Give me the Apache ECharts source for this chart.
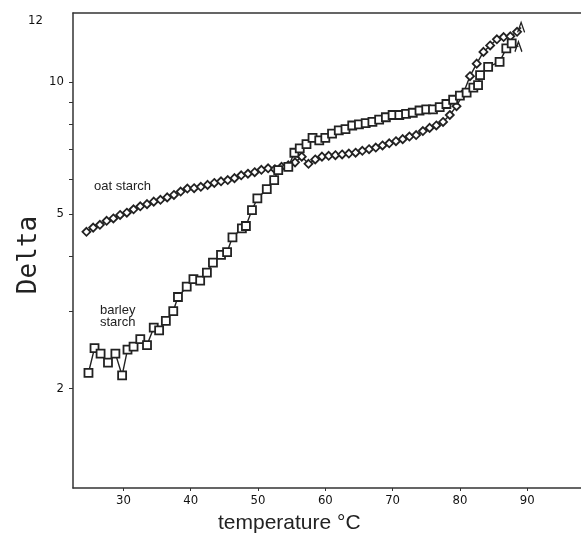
<!DOCTYPE html>
<html><head><meta charset="utf-8">
<script src="https://cdn.jsdelivr.net/npm/echarts@6/dist/echarts.min.js"></script>
<style>html,body{margin:0;padding:0;background:#fff}#c{width:581px;height:538px}</style>
</head><body><div id="c"></div>
<script>
// Oat starch (diamonds)
const oatTemp = [24.5,25.5,26.5,27.5,28.5,29.5,30.5,31.5,32.5,33.5,34.5,35.5,36.5,37.5,38.5,39.5,40.5,41.5,42.5,43.5,44.5,45.5,46.5,47.5,48.5,49.5,50.5,51.5,52.5,53.5,54.5,55.5,56.5,57.5,58.5,59.5,60.5,61.5,62.5,63.5,64.5,65.5,66.5,67.5,68.5,69.5,70.5,71.5,72.5,73.5,74.5,75.5,76.5,77.5,78.5,79.5,80.5,81.5,82.5,83.5,84.5,85.5,86.5,87.5,88.5,89.1];
const oatDelta = [4.55,4.65,4.72,4.82,4.88,4.97,5.03,5.12,5.20,5.26,5.33,5.38,5.45,5.52,5.62,5.71,5.72,5.76,5.82,5.88,5.93,5.97,6.03,6.12,6.17,6.22,6.30,6.35,6.32,6.40,6.45,6.55,6.75,6.50,6.65,6.75,6.78,6.80,6.83,6.86,6.89,6.96,7.02,7.08,7.16,7.24,7.32,7.40,7.50,7.56,7.72,7.85,7.95,8.10,8.40,8.80,9.40,10.3,11.0,11.7,12.1,12.5,12.65,12.7,13.0,13.3];
// Barley starch (squares)
const barleyTemp = [24.8,25.7,26.6,27.7,28.8,29.8,30.6,31.5,32.5,33.5,34.5,35.3,36.3,37.4,38.1,39.4,40.4,41.4,42.4,43.3,44.5,45.4,46.2,47.6,48.2,49.1,49.9,51.3,52.4,53.0,54.5,55.4,56.2,57.2,58.1,59.1,60.0,61.0,62.0,63.0,64.0,65.0,66.0,67.0,68.0,69.0,70.0,71.0,72.0,73.0,74.0,75.0,76.0,77.0,78.0,79.0,80.0,81.0,82.0,82.7,83.0,84.2,85.9,86.9,87.7,88.7];
const barleyDelta = [2.17,2.47,2.40,2.29,2.40,2.14,2.45,2.49,2.59,2.51,2.75,2.71,2.85,3.00,3.23,3.41,3.55,3.52,3.67,3.87,4.03,4.09,4.42,4.63,4.69,5.10,5.42,5.69,5.97,6.29,6.40,6.89,7.05,7.21,7.45,7.35,7.45,7.62,7.75,7.80,7.95,8.00,8.05,8.10,8.20,8.30,8.40,8.40,8.45,8.50,8.60,8.65,8.65,8.75,8.90,9.10,9.30,9.45,9.70,9.83,10.36,10.82,11.10,11.92,12.23,12.02];
// Axis ticks
const xTickLabels = [30,40,50,60,70,80,90];
const yTickLabels = [2,5,10];
const yMinorTicks = [2,3,4,5,6,7,8,9,10];

const ink = '#222';
const tickFont = 'Liberation Sans Narrow, DejaVu Sans Condensed, sans-serif';
const endMark = 'path://M0,10L5,0L10,10';
function pts(xs, ys){
  return xs.map((x,i)=> i===xs.length-1
    ? {value:[x,ys[i]], symbol:endMark, symbolSize:[7,10], itemStyle:{color:'none',borderColor:ink,borderWidth:1.5}}
    : [x,ys[i]]);
}
const chart = echarts.init(document.getElementById('c'), null, {renderer:'canvas'});
chart.setOption({
  animation:false,
  backgroundColor:'#fff',
  grid:{left:73, top:13, right:0, bottom:50},
  xAxis:[{type:'value', min:22.5, max:98,
    splitLine:{show:false},
    axisLine:{lineStyle:{color:'#333',width:1.5}},
    axisTick:{customValues:xTickLabels, length:3, lineStyle:{color:'#333'}},
    axisLabel:{customValues:xTickLabels, color:'#111', fontSize:13, fontFamily:tickFont, margin:6}
  },{type:'value', position:'top', min:22.5, max:98,
    splitLine:{show:false}, axisTick:{show:false}, axisLabel:{show:false},
    axisLine:{show:true, lineStyle:{color:'#333',width:1.5}}
  }],
  yAxis:{type:'log', logBase:10, min:1.185, max:14.35,
    splitLine:{show:false}, minorTick:{show:false},
    axisLine:{show:true, lineStyle:{color:'#333',width:1.5}},
    axisTick:{customValues:yMinorTicks, length:4, lineStyle:{color:'#333'}},
    axisLabel:{customValues:yTickLabels, color:'#111', fontSize:13, fontFamily:tickFont, margin:9}
  },
  graphic:[
    {type:'text', x:29, y:255, rotation:Math.PI/2, style:{text:'Delta', align:'center', verticalAlign:'middle', fontSize:26, fontFamily:'DejaVu Sans Mono, monospace', fill:'#222'}},
    {type:'text', left:28, top:14, style:{text:'12', fontSize:13, fontFamily:tickFont, fill:'#111'}},
    {type:'text', left:218, top:513, style:{text:'temperature °C', fontSize:21, fontFamily:'Liberation Sans, Arial, sans-serif', fill:'#222'}},
    {type:'text', left:94, top:180, style:{text:'oat starch', fontSize:13, fontFamily:'Liberation Sans, Arial, sans-serif', fill:'#222'}},
    {type:'text', left:100, top:304, style:{text:'barley\nstarch', fontSize:13, lineHeight:12, fontFamily:'Liberation Sans, Arial, sans-serif', fill:'#222'}}
  ],
  series:[
    {name:'oat starch', type:'line', data:pts(oatTemp,oatDelta), symbol:'diamond', symbolSize:8,
     lineStyle:{color:ink,width:1.4}, itemStyle:{color:'#fff',borderColor:ink,borderWidth:1.8}},
    {name:'barley starch', type:'line', data:pts(barleyTemp,barleyDelta), symbol:'rect', symbolSize:8,
     lineStyle:{color:ink,width:1.4}, itemStyle:{color:'#fff',borderColor:ink,borderWidth:1.8}}
  ]
});
</script></body></html>
